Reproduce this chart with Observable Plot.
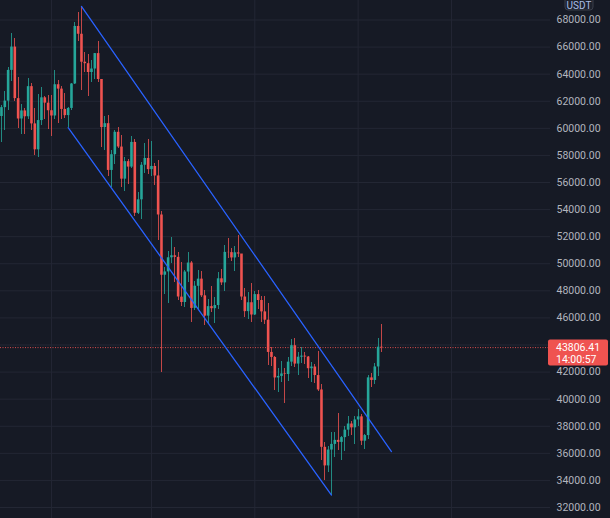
<!DOCTYPE html>
<html>
<head>
<meta charset="utf-8">
<script src="https://cdn.jsdelivr.net/npm/d3@7"></script>
<script src="https://cdn.jsdelivr.net/npm/@observablehq/plot@0.6"></script>
<style>
  html, body { margin: 0; padding: 0; background: #161a25; }
  #chart { width: 610px; height: 518px; overflow: hidden; }
</style>
</head>
<body>
<div id="chart"></div>
<script>
// ---- data (daily BTC/USDT candles) ----
const firstDay = "2021-10-17";
const open = [
  60875, 61528, 62010, 64280, 66002, 62193, 60689, 61286, 60853, 63078,
  60328, 58413, 60575, 62254, 61859, 61300, 60911, 63220, 62896, 61396,
  60941, 61470, 63273, 67525, 66947, 64883, 64774, 64122, 64380, 65519,
  63606, 60058, 60345, 56892, 58052, 59707, 58617, 56247, 57541, 57138,
  58960, 53724, 54721, 57274, 57776, 56951, 57185, 56485, 53601, 49152,
  49397, 50441, 50588, 50471, 47535, 47140, 49389, 50054, 46708, 48336,
  48864, 47632, 46133, 46834, 46681, 46914, 48887, 48588, 50839, 50821,
  50428, 50802, 50718, 47543, 46464, 47120, 46216, 47722, 47286, 46446,
  45832, 43451, 43082, 41566, 41680, 41864, 41822, 42735, 43946, 42592,
  43099, 43177, 43113, 42250, 42375, 41744, 40680, 36445, 35071, 36244,
  36660, 36958, 36808, 37160, 37713, 38166, 37881, 38466, 38694, 36896,
  37311, 41571, 41382, 42380, 43840
];
const high = [
  61700, 62695, 64486, 67000, 66639, 63732, 61747, 61500, 63710, 63293,
  61496, 62499, 62980, 62359, 62405, 62437, 64270, 63500, 63086, 62595,
  61560, 63286, 67789, 68530, 69000, 65600, 65460, 65000, 65550, 66401,
  63617, 60840, 60977, 58352, 59846, 60029, 59444, 57875, 57700, 59399,
  59150, 55280, 57445, 58865, 59176, 59054, 57374, 57600, 53859, 49699,
  50891, 51936, 51200, 50797, 50125, 49485, 50797, 50189, 48700, 49500,
  49436, 47995, 47392, 48300, 47537, 49328, 49576, 51375, 51869, 51156,
  51281, 52088, 50718, 48140, 47900, 48548, 47954, 47990, 47570, 47557,
  47070, 43816, 43145, 42300, 42786, 42248, 43100, 44423, 44500, 43448,
  43800, 43478, 43176, 42690, 42579, 43505, 41100, 36835, 36499, 37550,
  37545, 38919, 37234, 38000, 38720, 38360, 38744, 39265, 38855, 37387,
  41772, 41913, 42657, 44500, 45492
];
const low = [
  58963, 59844, 61322, 63481, 62000, 60000, 59562, 59510, 60650, 59817,
  58000, 57820, 60174, 60673, 59945, 59405, 60624, 60382, 60677, 60721,
  60050, 61322, 63273, 66383, 62822, 64100, 62333, 63360, 63576, 63400,
  58574, 58373, 56474, 55600, 57353, 58486, 55610, 55317, 55837, 57000,
  53500, 53610, 53256, 56666, 56555, 56458, 55777, 51681, 42000, 47727,
  47100, 50039, 48600, 47320, 46852, 46751, 48638, 45672, 46547, 46547,
  47511, 45456, 45500, 46406, 45558, 46630, 48421, 47920, 50384, 50142,
  49412, 50449, 47313, 46060, 45900, 45678, 46208, 46654, 45696, 45500,
  42500, 42430, 40610, 40501, 41200, 39650, 41268, 42440, 42311, 41725,
  42654, 42581, 41540, 41250, 41138, 40553, 35440, 34008, 34601, 32918,
  35701, 36234, 35507, 36155, 37268, 37351, 36633, 38000, 36586, 36250,
  37026, 40843, 41116, 41645, 43480
];
const close = [
  61528, 62010, 64280, 66001, 62194, 60689, 61286, 60853, 63078, 60328,
  58413, 60575, 62253, 61859, 61300, 60911, 63219, 62896, 61395, 60937,
  61470, 63273, 67525, 66947, 64882, 64774, 64122, 64380, 65519, 63606,
  60058, 60345, 56892, 58052, 59707, 58622, 56247, 57541, 57138, 58960,
  53727, 54721, 57274, 57776, 56950, 57185, 56480, 53602, 49152, 49397,
  50441, 50588, 50471, 47545, 47140, 49389, 50053, 46702, 48343, 48864,
  47633, 46131, 46834, 46681, 46914, 48889, 48588, 50839, 50821, 50429,
  50810, 50718, 47543, 46464, 47120, 46216, 47722, 47286, 46446, 45832,
  43451, 43082, 41566, 41680, 41864, 41822, 42735, 43949, 42591, 43099,
  43177, 43113, 42250, 42375, 41744, 40680, 36445, 35071, 36244, 36660,
  36958, 36809, 37161, 37713, 38167, 37881, 38466, 38694, 36896, 37311,
  41574, 41382, 42380, 43840, 43806.41
];
const lastPrice = 43806.41;
const countdown = "14:00:57";
const priceTicks = [32000, 34000, 36000, 38000, 40000, 42000, 44000, 46000, 48000,
  50000, 52000, 54000, 56000, 58000, 60000, 62000, 64000, 66000, 68000];
const monthLines = ["2021-11-01", "2021-12-01", "2022-01-01", "2022-02-01", "2022-03-01"];
const upperDates = ["2021-11-10", "2022-02-11"];
const upperPrices = [69000, 36135];
const lowerDates = ["2021-11-06", "2022-01-24"];
const lowerPrices = [60050, 32918];
const currency = "USDT";

// ---- build tables ----
const start = new Date(firstDay);
const bars = open.map((o, i) => ({
  date: d3.utcDay.offset(start, i),
  open: o, high: high[i], low: low[i], close: close[i]
}));
const upper = upperDates.map((d, i) => ({date: new Date(d), price: upperPrices[i]}));
const lower = lowerDates.map((d, i) => ({date: new Date(d), price: lowerPrices[i]}));
const gridDates = monthLines.map(d => new Date(d));
// the 44000 label sits under the live price tag, so it is not printed
const labelTicks = priceTicks.filter(t => Math.abs(t - lastPrice) > 1000);

const GREEN = "#26a69a", RED = "#ef5350", GRID = "#232734", TEXT = "#b2b5be";
const colorOf = d => d.close >= d.open ? GREEN : RED;
const W = 610, H = 518, MR = 60;
const FONT = "Roboto, 'Liberation Sans', sans-serif";

const chart = Plot.plot({
  width: W, height: H,
  marginLeft: 0, marginRight: MR, marginTop: 0, marginBottom: 0,
  style: {background: "#161a25", fontFamily: FONT},
  x: {type: "utc", domain: [new Date("2021-10-16T17:00Z"), new Date("2022-03-30T17:00Z")], axis: null},
  y: {domain: [31188, 69440], axis: null},
  marks: [
    Plot.gridX(gridDates, {stroke: GRID, strokeOpacity: 1}),
    Plot.gridY(priceTicks, {stroke: GRID, strokeOpacity: 1}),
    Plot.ruleY([lastPrice], {stroke: RED, strokeOpacity: 0.9, strokeDasharray: "1,1.5"}),
    Plot.ruleX(bars, {x: "date", y1: "low", y2: "high", stroke: colorOf, strokeWidth: 1,
      strokeOpacity: 0.8, shapeRendering: "crispEdges"}),
    Plot.ruleX(bars, {x: "date", y1: "open", y2: "close", stroke: colorOf, strokeWidth: 2.6}),
    Plot.line(upper, {x: "date", y: "price", stroke: "#2962ff", strokeWidth: 1.3}),
    Plot.line(lower, {x: "date", y: "price", stroke: "#2962ff", strokeWidth: 1.3}),
    Plot.axisY(labelTicks, {
      anchor: "right", label: null, tickSize: 0, tickPadding: 6,
      tickFormat: d => d.toFixed(2), fill: TEXT, fontSize: 10.5, textAnchor: "start"
    })
  ]
});
document.getElementById("chart").appendChild(chart);

// ---- price label and currency badge on the price scale ----
const svg = d3.select(chart);
const py = chart.scale("y").apply(lastPrice);
const axisX = W - MR;
const lab = svg.append("g").attr("text-anchor", "start")
  .attr("font-size", 10.5).attr("font-family", FONT).attr("fill", "#ffffff");
lab.append("rect").attr("x", axisX - 2).attr("y", py - 7.5)
  .attr("width", 60).attr("height", 26).attr("rx", 2).attr("fill", RED);
lab.append("text").attr("x", axisX + 6).attr("y", py + 3.5).attr("text-anchor", "start")
  .text(lastPrice.toFixed(2));
lab.append("text").attr("x", axisX + 6).attr("y", py + 15.5).attr("text-anchor", "start")
  .text(countdown);

const badge = svg.append("g");
badge.append("rect").attr("x", axisX + 15).attr("y", -4).attr("width", 28).attr("height", 14)
  .attr("rx", 3).attr("fill", "#1e222d").attr("stroke", "#3a3e4a");
badge.append("text").attr("x", axisX + 29).attr("y", 8.5).attr("text-anchor", "middle")
  .attr("fill", "#a9bde6").attr("font-size", 10).attr("font-family", FONT)
  .text(currency);
</script>
</body>
</html>
